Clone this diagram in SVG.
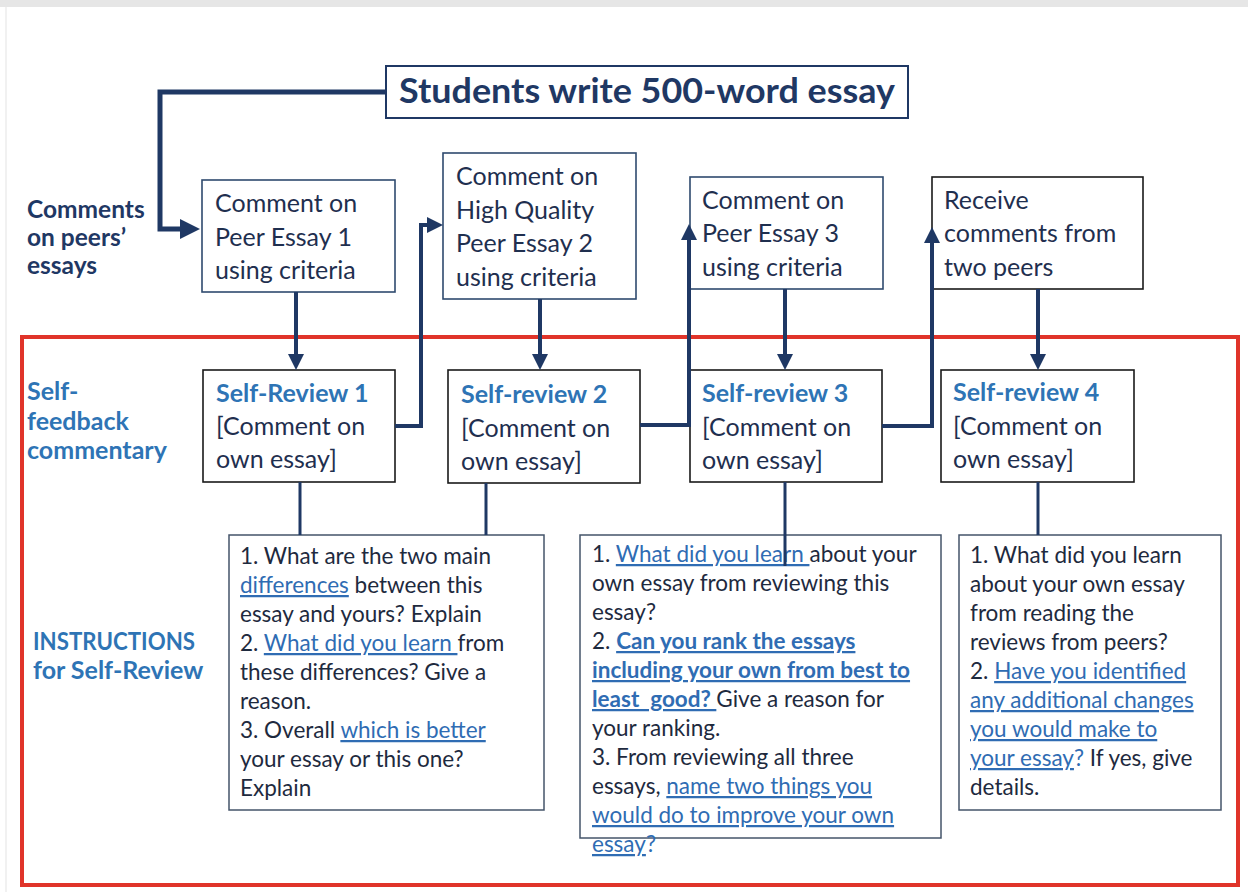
<svg xmlns="http://www.w3.org/2000/svg" width="1248" height="892" viewBox="0 0 1248 892">
  <style>
    .bg { fill: #ffffff; }
    .box { fill: #ffffff; stroke: #2f4a6e; stroke-width: 1.6; }
    .bbox { fill: #ffffff; stroke: #1a1a1a; stroke-width: 1.6; }
    .ibox { fill: #ffffff; stroke: #44546a; stroke-width: 1.5; }
    .frame { fill: none; stroke: #e0342a; stroke-width: 4; }
    .title { font-family: Lato, "Liberation Sans", sans-serif; font-weight: 700; font-size: 35px; fill: #1f3864; }
    .cm { font-family: Lato, "Liberation Sans", sans-serif; font-size: 25px; fill: #1f2f4f; }
    .hd { font-family: Lato, "Liberation Sans", sans-serif; font-size: 25px; font-weight: 700; fill: #2e74b5; }
    .lbl { font-family: Lato, "Liberation Sans", sans-serif; font-size: 24.5px; font-weight: 700; fill: #1f3864; }
    .lblb { font-family: Lato, "Liberation Sans", sans-serif; font-size: 25px; font-weight: 700; fill: #2e74b5; }
    .ins { font-family: Lato, "Liberation Sans", sans-serif; font-size: 22.5px; fill: #1e2a3e; }
    .ln { fill: #2f6cb3; text-decoration: underline; }
    .lnb { fill: #2f6cb3; text-decoration: underline; font-weight: 700; }
    .q { fill: #2f6cb3; }
    .conn { fill: none; stroke: #1f3864; stroke-linejoin: miter; }
    .thick { stroke-width: 5; }
    .mid { stroke-width: 4; }
    .thin { stroke-width: 3; }
  </style>
  <defs>
    <marker id="headL" markerUnits="userSpaceOnUse" viewBox="0 0 20 20" markerWidth="20" markerHeight="20" refX="0" refY="10" orient="auto">
      <path d="M0,0 L20,10 L0,20 z" fill="#1f3864"/>
    </marker>
    <marker id="head" markerUnits="userSpaceOnUse" viewBox="0 0 16 16" markerWidth="16" markerHeight="16" refX="0" refY="8" orient="auto">
      <path d="M0,0 L16,8 L0,16 z" fill="#1f3864"/>
    </marker>
  </defs>

  <!-- page -->
  <rect class="bg" x="0" y="0" width="1248" height="892"/>
  <rect x="0" y="0" width="1248" height="7" fill="#e6e6e6"/>
  <line x1="6" y1="7" x2="6" y2="892" stroke="#ececec" stroke-width="1.5"/>

  <!-- row labels -->
  <g id="label-comments">
    <text class="lbl" x="27" y="218">Comments</text>
    <text class="lbl" x="27" y="246">on peers’</text>
    <text class="lbl" x="27" y="274">essays</text>
  </g>
  <g id="label-self-feedback">
    <text class="lblb" x="27" y="400">Self-</text>
    <text class="lblb" x="27" y="430">feedback</text>
    <text class="lblb" x="27" y="459">commentary</text>
  </g>
  <g id="label-instructions">
    <text class="lblb" x="33" y="650" textLength="162" lengthAdjust="spacingAndGlyphs">INSTRUCTIONS</text>
    <text class="lblb" x="33" y="679">for Self-Review</text>
  </g>

  <!-- self-review frame -->
  <rect class="frame" x="22" y="337" width="1216" height="548"/>

  <!-- top node -->
  <g id="essay">
    <rect x="386" y="66" width="522" height="52" fill="#ffffff" stroke="#1f3864" stroke-width="2"/>
    <text class="title" x="399" y="103" textLength="496" lengthAdjust="spacingAndGlyphs">Students write 500-word essay</text>
  </g>

  <!-- peer comment nodes -->
  <g id="peer1">
    <rect class="box" x="202" y="180" width="193" height="112"/>
    <text class="cm" x="215" y="212">Comment on</text>
    <text class="cm" x="215" y="246">Peer Essay 1</text>
    <text class="cm" x="215" y="279">using criteria</text>
  </g>
  <g id="peer2">
    <rect class="box" x="443" y="153" width="193" height="146"/>
    <text class="cm" x="456" y="185">Comment on</text>
    <text class="cm" x="456" y="219">High Quality</text>
    <text class="cm" x="456" y="252">Peer Essay 2</text>
    <text class="cm" x="456" y="286">using criteria</text>
  </g>
  <g id="peer3">
    <rect class="box" x="690" y="177" width="193" height="112"/>
    <text class="cm" x="702" y="209">Comment on</text>
    <text class="cm" x="702" y="242">Peer Essay 3</text>
    <text class="cm" x="702" y="276">using criteria</text>
  </g>
  <g id="receive">
    <rect class="bbox" x="932" y="177" width="211" height="112"/>
    <text class="cm" x="944" y="209">Receive</text>
    <text class="cm" x="944" y="242">comments from</text>
    <text class="cm" x="944" y="276">two peers</text>
  </g>

  <!-- self-review nodes -->
  <g id="self1">
    <rect class="bbox" x="203" y="370" width="192" height="112"/>
    <text class="hd" x="216" y="402">Self-Review 1</text>
    <text class="cm" x="216" y="435">[Comment on</text>
    <text class="cm" x="216" y="468">own essay]</text>
  </g>
  <g id="self2">
    <rect class="bbox" x="448" y="370" width="192" height="113"/>
    <text class="hd" x="461" y="403">Self-review 2</text>
    <text class="cm" x="461" y="437">[Comment on</text>
    <text class="cm" x="461" y="470">own essay]</text>
  </g>
  <g id="self3">
    <rect class="bbox" x="690" y="370" width="192" height="112"/>
    <text class="hd" x="702" y="402">Self-review 3</text>
    <text class="cm" x="702" y="436">[Comment on</text>
    <text class="cm" x="702" y="469">own essay]</text>
  </g>
  <g id="self4">
    <rect class="bbox" x="941" y="370" width="193" height="112"/>
    <text class="hd" x="953" y="401">Self-review 4</text>
    <text class="cm" x="953" y="435">[Comment on</text>
    <text class="cm" x="953" y="468">own essay]</text>
  </g>

  <!-- instruction nodes -->
  <g id="instr1">
    <rect class="ibox" x="229" y="535" width="315" height="275"/>
    <text class="ins" x="240" y="564">1. What are the two main</text>
    <text class="ins" x="240" y="593"><tspan class="ln">differences</tspan> between this</text>
    <text class="ins" x="240" y="622">essay and yours? Explain</text>
    <text class="ins" x="240" y="651" xml:space="preserve">2. <tspan class="ln">What did you learn </tspan>from</text>
    <text class="ins" x="240" y="680">these differences? Give a</text>
    <text class="ins" x="240" y="709">reason.</text>
    <text class="ins" x="240" y="738" xml:space="preserve">3. Overall <tspan class="ln">which is better</tspan></text>
    <text class="ins" x="240" y="767">your essay or this one?</text>
    <text class="ins" x="240" y="796">Explain</text>
  </g>
  <g id="instr2">
    <rect class="ibox" x="580" y="535" width="361" height="303"/>
    <text class="ins" x="592" y="562" xml:space="preserve">1. <tspan class="ln">What did you learn </tspan>about your</text>
    <text class="ins" x="592" y="591">own essay from reviewing this</text>
    <text class="ins" x="592" y="620">essay?</text>
    <text class="ins" x="592" y="649" xml:space="preserve">2. <tspan class="lnb">Can you rank the essays</tspan></text>
    <text class="ins" x="592" y="678"><tspan class="lnb">including your own from best to</tspan></text>
    <text class="ins" x="592" y="707" xml:space="preserve"><tspan class="lnb">least  good? </tspan>Give a reason for</text>
    <text class="ins" x="592" y="736">your ranking.</text>
    <text class="ins" x="592" y="765">3. From reviewing all three</text>
    <text class="ins" x="592" y="794" xml:space="preserve">essays, <tspan class="ln">name two things you</tspan></text>
    <text class="ins" x="592" y="823"><tspan class="ln">would do to improve your own</tspan></text>
    <text class="ins" x="592" y="852"><tspan class="ln">essay</tspan><tspan class="q">?</tspan></text>
  </g>
  <g id="instr3">
    <rect class="ibox" x="959" y="535" width="262" height="275"/>
    <text class="ins" x="970" y="563">1. What did you learn</text>
    <text class="ins" x="970" y="592">about your own essay</text>
    <text class="ins" x="970" y="621">from reading the</text>
    <text class="ins" x="970" y="650">reviews from peers?</text>
    <text class="ins" x="970" y="679" xml:space="preserve">2. <tspan class="ln">Have you identified</tspan></text>
    <text class="ins" x="970" y="708"><tspan class="ln">any additional changes</tspan></text>
    <text class="ins" x="970" y="737"><tspan class="ln">you would make to</tspan></text>
    <text class="ins" x="970" y="766" xml:space="preserve"><tspan class="ln">your essay</tspan><tspan class="q">?</tspan> If yes, give</text>
    <text class="ins" x="970" y="795">details.</text>
  </g>

  <!-- connectors -->
  <g id="connectors">
    <path class="conn thick" d="M386,92 H160 V229 H180" marker-end="url(#headL)"/>
    <path class="conn mid" d="M395,426 H421 V225 H427" marker-end="url(#head)"/>
    <path class="conn mid" d="M640,425 H689 V240" marker-end="url(#head)"/>
    <path class="conn mid" d="M882,426 H932 V243" marker-end="url(#head)"/>
    <path class="conn mid" d="M296,292 V354" marker-end="url(#head)"/>
    <path class="conn mid" d="M540,299 V354" marker-end="url(#head)"/>
    <path class="conn mid" d="M785,289 V354" marker-end="url(#head)"/>
    <path class="conn mid" d="M1038,289 V354" marker-end="url(#head)"/>
    <path class="conn thin" d="M300,482 V535"/>
    <path class="conn thin" d="M486,483 V535"/>
    <path class="conn thin" d="M785,482 V566"/>
    <path class="conn thin" d="M1038,482 V535"/>
  </g>
</svg>
